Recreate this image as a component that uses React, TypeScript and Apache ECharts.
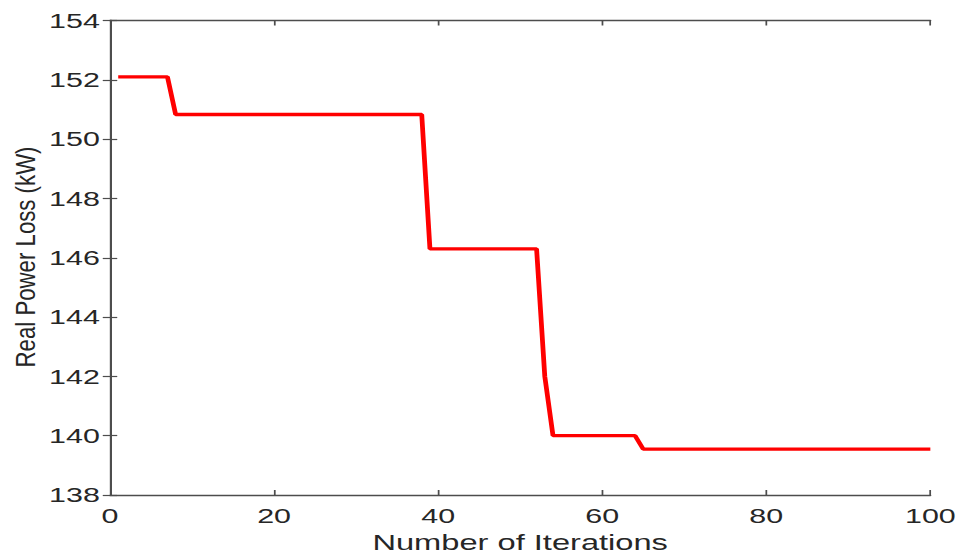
import React, { useEffect, useRef } from "react";
import * as echarts from "echarts";

// Breakpoints of the convergence curve (iteration, real power loss in kW)
const iterations = [1, 7, 8, 38, 39, 52, 53, 54, 64, 65, 100];
const powerLoss = [152.1, 152.1, 150.83, 150.83, 146.3, 146.3, 142.0, 140.0, 140.0, 139.55, 139.55];

const xAxisTitle = "Number of Iterations";
const yAxisTitle = "Real Power Loss (kW)";
const xRange = [0, 100];
const xStep = 20;
const yRange = [138, 154];
const yStep = 2;

const STRETCH = 1.45; // reference figure is stretched horizontally
const PAGE_W = 961;
const PAGE_H = 559;

export default function App() {
  const ref = useRef<HTMLDivElement>(null);

  useEffect(() => {
    if (!ref.current) return;
    const chart = echarts.init(ref.current, undefined, { renderer: "svg" });
    const W = PAGE_W / STRETCH;
    const left = 110 / STRETCH;
    const right = W - 930 / STRETCH;
    const top = 20.5;
    const bottom = PAGE_H - 501;
    const font = "'Liberation Sans', Arial, Helvetica, sans-serif";
    const axisColor = "#4d4d4d";
    const textColor = "#262626";

    const data = iterations.map((it, i) => [it, powerLoss[i]]);

    chart.setOption({
      animation: false,
      backgroundColor: "#ffffff",
      grid: { left, right, top, bottom, containLabel: false },
      xAxis: [
        {
          type: "value",
          min: xRange[0],
          max: xRange[1],
          interval: xStep,
          position: "bottom",
          name: xAxisTitle,
          nameLocation: "middle",
          nameGap: 36,
          nameTextStyle: { fontFamily: font, fontSize: 22.5, color: textColor },
          axisLine: { show: true, lineStyle: { color: axisColor, width: 1.4 } },
          axisTick: { show: true, inside: true, length: 5, lineStyle: { color: axisColor, width: 1.2 } },
          axisLabel: { fontFamily: font, fontSize: 21, color: textColor, margin: 10 },
          splitLine: { show: false },
        },
        {
          type: "value",
          min: xRange[0],
          max: xRange[1],
          interval: xStep,
          position: "top",
          axisLine: { show: true, lineStyle: { color: axisColor, width: 1.4 } },
          axisTick: { show: true, inside: true, length: 5, lineStyle: { color: axisColor, width: 1.2 } },
          axisLabel: { show: false },
          splitLine: { show: false },
        },
      ],
      yAxis: [
        {
          type: "value",
          min: yRange[0],
          max: yRange[1],
          interval: yStep,
          position: "left",
          axisLine: { show: true, lineStyle: { color: axisColor, width: 1.4 } },
          axisTick: { show: true, inside: true, length: 5, lineStyle: { color: axisColor, width: 1.2 } },
          axisLabel: { fontFamily: font, fontSize: 21, color: textColor, margin: 7 },
          splitLine: { show: false },
        },
        {
          type: "value",
          min: yRange[0],
          max: yRange[1],
          interval: yStep,
          position: "right",
          axisLine: { show: true, lineStyle: { color: axisColor, width: 1.4 } },
          axisTick: { show: true, inside: true, length: 5, lineStyle: { color: axisColor, width: 1.2 } },
          axisLabel: { show: false },
          splitLine: { show: false },
        },
      ],
      graphic: [
        {
          type: "text",
          x: 25 / STRETCH,
          y: 257,
          rotation: Math.PI / 2,
          scaleX: 1.17,
          scaleY: 1,
          style: {
            text: yAxisTitle,
            fontFamily: font,
            fontSize: 19,
            fill: textColor,
            align: "center",
            verticalAlign: "middle",
          },
        },
      ],
      series: [
        {
          type: "line",
          xAxisIndex: 0,
          yAxisIndex: 0,
          data,
          showSymbol: false,
          symbol: "none",
          lineStyle: { color: "#ff0000", width: 3.3 },
          z: 3,
        },
      ],
    });

    return () => chart.dispose();
  }, []);

  const W = PAGE_W / STRETCH;
  return (
    <div
      style={{
        position: "absolute",
        left: 0,
        top: 0,
        width: PAGE_W,
        height: PAGE_H,
        overflow: "hidden",
        background: "#fff",
      }}
    >
      <div
        ref={ref}
        style={{
          width: W,
          height: PAGE_H,
          transform: `scaleX(${STRETCH})`,
          transformOrigin: "0 0",
        }}
      />
    </div>
  );
}
